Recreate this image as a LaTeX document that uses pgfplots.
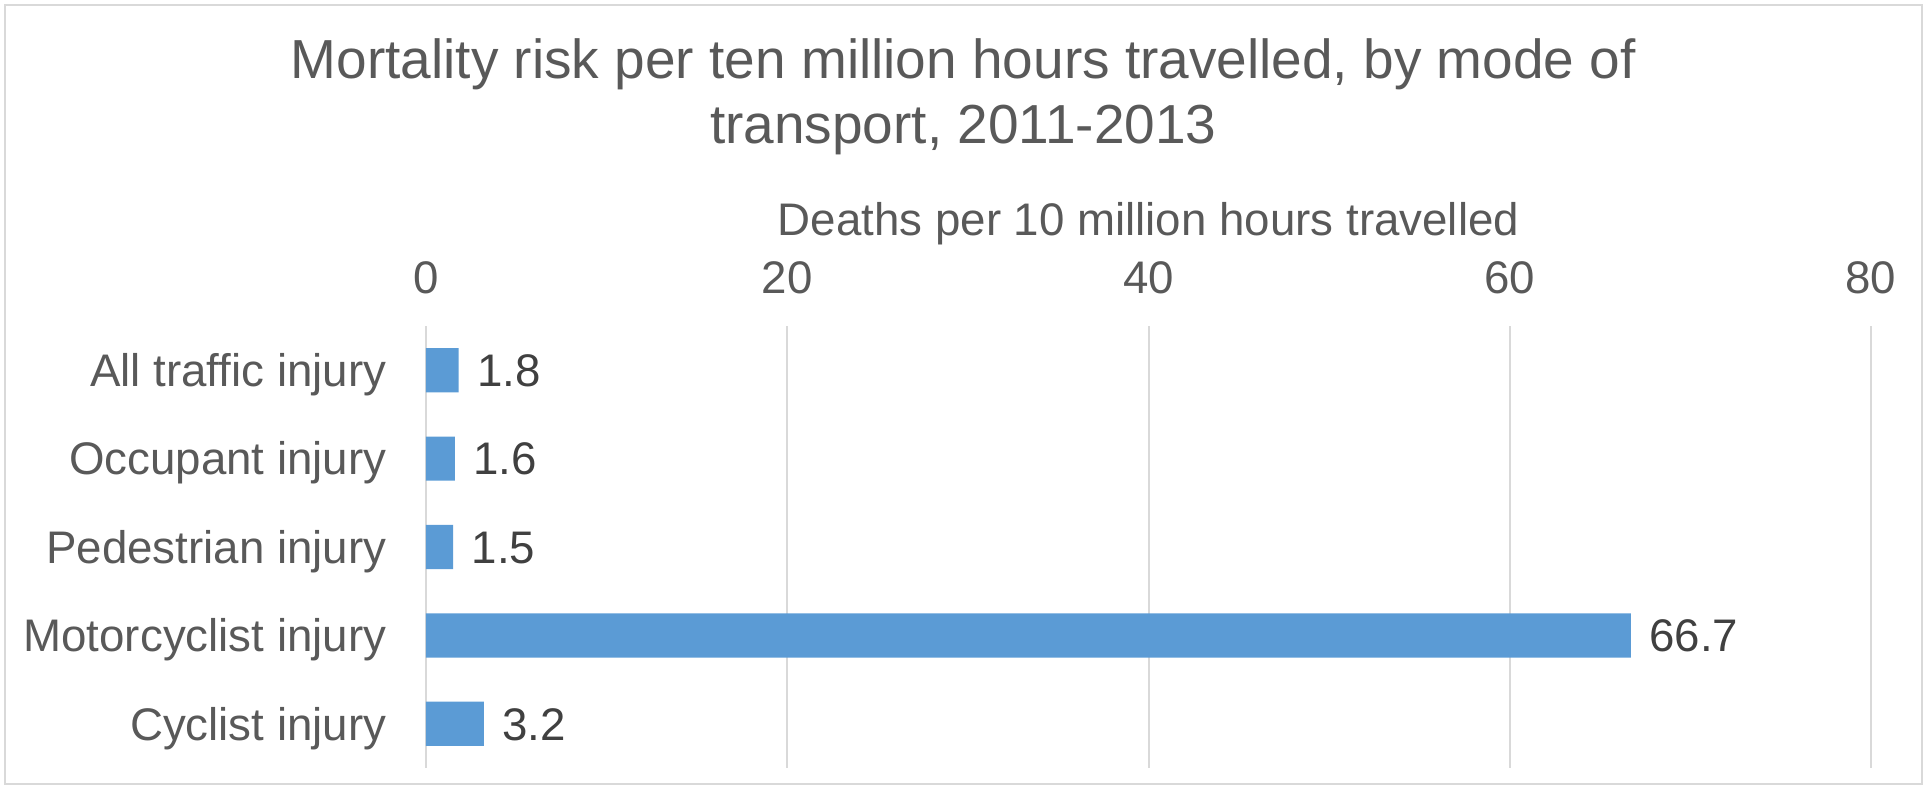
\documentclass[border=0pt]{standalone}
\usepackage{fontspec}
\setmainfont{Liberation Sans}
\usepackage{pgfplots}
\pgfplotsset{compat=1.18}
\definecolor{barblue}{HTML}{5B9BD5}
\definecolor{txtgray}{HTML}{595959}
\definecolor{darktxt}{HTML}{404040}
\definecolor{gridgray}{HTML}{D9D9D9}
\begin{document}
\begin{tikzpicture}
\draw[gridgray, line width=0.5pt] (1.5pt,1.2pt) rectangle (576.6pt,234.9pt);
\useasboundingbox (0,0) rectangle (578.1pt,236.4pt);
\node[anchor=base, text=txtgray, font=\fontsize{16.5pt}{19.8pt}\selectfont] at (289pt,213pt) {Mortality risk per ten million hours travelled, by mode of};
\node[anchor=base, text=txtgray, font=\fontsize{16.5pt}{19.8pt}\selectfont] at (289pt,193.5pt) {transport, 2011-2013};
\begin{axis}[
  at={(127.8pt,6pt)}, anchor=south west,
  scale only axis,
  width=433.5pt, height=132.6pt,
  xbar, bar width=0.5,
  xmin=0, xmax=80,
  xtick={0,20,40,60,80},
  ymin=-0.5, ymax=4.5,
  y dir=reverse,
  ytick={0,1,2,3,4},
  yticklabels={All traffic injury, Occupant injury, Pedestrian injury, Motorcyclist injury, Cyclist injury},
  xticklabel pos=top,
  xmajorgrids, ymajorgrids=false,
  grid style={gridgray, line width=0.6pt},
  axis line style={draw=none},
  major tick length=0pt,
  tick style={draw=none},
  /pgf/number format/assume math mode=true,
  ticklabel style={font=\fontsize{13.7pt}{16.4pt}\selectfont, text=txtgray},
  xticklabel style={anchor=base, inner sep=0pt, yshift=9.9pt},
  yticklabel style={anchor=base east, inner sep=0pt, xshift=-11.7pt, yshift=-4.9pt},
  xlabel={Deaths per 10 million hours travelled},
  xlabel style={at={(axis description cs:0.5,1)}, anchor=base, inner sep=0pt, yshift=27.2pt, font=\fontsize{13.7pt}{16.4pt}\selectfont, text=txtgray},
  nodes near coords={\pgfmathprintnumber[fixed, fixed zerofill, precision=1]{\pgfplotspointmeta}},
  every node near coord/.style={anchor=base west, inner sep=0pt, xshift=5.4pt, yshift=-4.9pt, font=\fontsize{13.7pt}{16.4pt}\selectfont, text=darktxt},
  clip=false,
]
\addplot[fill=barblue, draw=none] coordinates {(1.8,0) (1.6,1) (1.5,2) (66.7,3) (3.2,4)};
\end{axis}
\end{tikzpicture}
\end{document}
